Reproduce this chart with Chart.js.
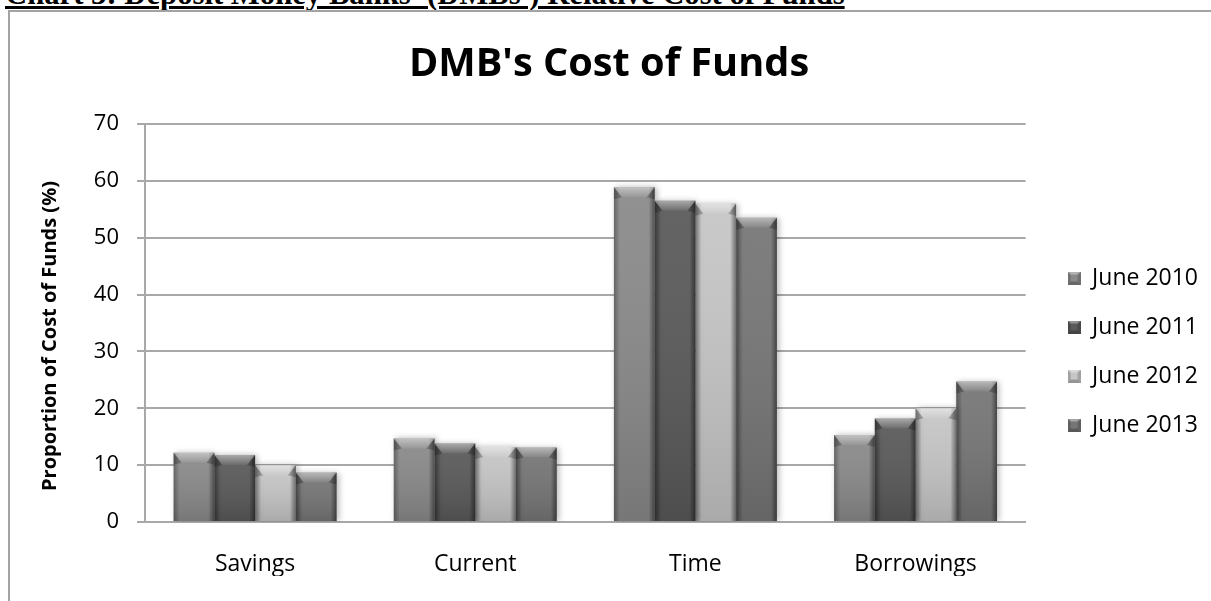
<!DOCTYPE html>
<html>
<head>
<meta charset="utf-8">
<script src="https://cdn.jsdelivr.net/npm/chart.js@4.4.0/dist/chart.umd.min.js"></script>
<style>
  html, body { margin: 0; padding: 0; background: #ffffff; }
  body { width: 1211px; height: 601px; position: relative; overflow: hidden; }
  #heading {
    position: absolute; left: 5px; top: -21px; white-space: nowrap;
    font: bold 30.7px "Liberation Serif", "Times New Roman", serif; line-height: 31px;
    color: #000; text-decoration: underline; text-decoration-thickness: 3px;
    text-underline-offset: 2px;
  }
  .frame { position: absolute; background: #a3a3a3; }
  #frameTop { left: 8px; top: 10px; width: 1203px; height: 2px; }
  #frameLeft { left: 8px; top: 10px; width: 2px; height: 591px; }
  #chart { position: absolute; left: 0; top: 0; }
</style>
</head>
<body>
<div id="heading">Chart 3: Deposit Money Banks' (DMBs') Relative Cost of Funds</div>
<div class="frame" id="frameTop"></div>
<div class="frame" id="frameLeft"></div>
<canvas id="chart" width="1211" height="601"></canvas>
<script>
// Funding categories and each year's share of the banks' cost of funds (%)
const categories = ['Savings', 'Current', 'Time', 'Borrowings'];
const seriesNames = ['June 2010', 'June 2011', 'June 2012', 'June 2013'];
const june2010 = [12.2, 14.7, 58.9, 15.3];
const june2011 = [11.8, 13.8, 56.5, 18.2];
const june2012 = [10.0, 13.2, 56.0, 20.0];
const june2013 = [8.7, 13.1, 53.5, 24.7];
const yTicks = [0, 10, 20, 30, 40, 50, 60, 70];

const seriesValues = [june2010, june2011, june2012, june2013];
const seriesColors = ['#8a8a8a', '#5a5a5a', '#c6c6c6', '#767676'];
const gridColor = '#a8a8a8';
const textFont = '"Open Sans", "Liberation Sans", sans-serif';

// Small bevelled square used as each legend marker
function makeMarker(color) {
  const c = document.createElement('canvas');
  c.width = 13; c.height = 13;
  const g = c.getContext('2d');
  g.fillStyle = color;
  g.fillRect(0, 0, 13, 13);
  g.fillStyle = 'rgba(255,255,255,0.35)';
  g.beginPath(); g.moveTo(0, 0); g.lineTo(13, 0); g.lineTo(10, 3); g.lineTo(3, 3); g.closePath(); g.fill();
  g.fillStyle = 'rgba(0,0,0,0.25)';
  g.beginPath(); g.moveTo(0, 13); g.lineTo(13, 13); g.lineTo(10, 10); g.lineTo(3, 10); g.closePath(); g.fill();
  g.fillStyle = 'rgba(0,0,0,0.18)';
  g.beginPath(); g.moveTo(0, 0); g.lineTo(3, 3); g.lineTo(3, 10); g.lineTo(0, 13); g.closePath(); g.fill();
  g.beginPath(); g.moveTo(13, 0); g.lineTo(10, 3); g.lineTo(10, 10); g.lineTo(13, 13); g.closePath(); g.fill();
  return c;
}
const markers = seriesColors.map(makeMarker);

// Soft drop shadow behind the bars
const barShadow = {
  id: 'barShadow',
  beforeDatasetsDraw(chart) {
    const ctx = chart.ctx;
    ctx.save();
    ctx.shadowColor = 'rgba(0,0,0,0.28)';
    ctx.shadowBlur = 6;
    ctx.shadowOffsetX = 2;
    ctx.shadowOffsetY = 0;
  },
  afterDatasetsDraw(chart) {
    chart.ctx.restore();
  }
};

// Bevel shading on top of each bar (top chamfer, dark side edges, darker base)
const barBevel = {
  id: 'barBevel',
  afterDatasetsDraw(chart) {
    const ctx = chart.ctx;
    chart.data.datasets.forEach((ds, di) => {
      const meta = chart.getDatasetMeta(di);
      meta.data.forEach((bar) => {
        const p = bar.getProps(['x', 'y', 'width', 'base'], true);
        const x0 = p.x - p.width / 2, x1 = p.x + p.width / 2;
        const top = p.y, bottom = p.base, h = bottom - top;
        ctx.save();
        // vertical darkening toward the base
        let g = ctx.createLinearGradient(0, top, 0, bottom);
        g.addColorStop(0, 'rgba(255,255,255,0.06)');
        g.addColorStop(1, 'rgba(0,0,0,0.14)');
        ctx.fillStyle = g;
        ctx.fillRect(x0, top, p.width, h);
        // side edges
        g = ctx.createLinearGradient(x0, 0, x0 + 6, 0);
        g.addColorStop(0, 'rgba(0,0,0,0.30)');
        g.addColorStop(1, 'rgba(0,0,0,0)');
        ctx.fillStyle = g;
        ctx.fillRect(x0, top, 6, h);
        g = ctx.createLinearGradient(x1 - 6, 0, x1, 0);
        g.addColorStop(0, 'rgba(0,0,0,0)');
        g.addColorStop(1, 'rgba(0,0,0,0.45)');
        ctx.fillStyle = g;
        ctx.fillRect(x1 - 6, top, 6, h);
        // top chamfer
        const bv = Math.min(10, h / 2), inset = 8;
        ctx.fillStyle = 'rgba(0,0,0,0.22)';
        ctx.beginPath();
        ctx.moveTo(x0, top); ctx.lineTo(x0 + inset, top + bv); ctx.lineTo(x0, top + bv + 2); ctx.closePath(); ctx.fill();
        ctx.beginPath();
        ctx.moveTo(x1, top); ctx.lineTo(x1 - inset, top + bv); ctx.lineTo(x1, top + bv + 2); ctx.closePath(); ctx.fill();
        g = ctx.createLinearGradient(0, top, 0, top + bv);
        g.addColorStop(0, 'rgba(255,255,255,0.45)');
        g.addColorStop(1, 'rgba(255,255,255,0.05)');
        ctx.fillStyle = g;
        ctx.beginPath();
        ctx.moveTo(x0, top); ctx.lineTo(x1, top); ctx.lineTo(x1 - inset, top + bv); ctx.lineTo(x0 + inset, top + bv); ctx.closePath(); ctx.fill();
        ctx.restore();
      });
    });
  }
};

const datasets = seriesNames.map((name, i) => ({
  label: name,
  data: seriesValues[i],
  backgroundColor: seriesColors[i],
  borderWidth: 0,
  categoryPercentage: 0.74,
  barPercentage: 1.0
}));

new Chart(document.getElementById('chart'), {
  type: 'bar',
  data: { labels: categories, datasets: datasets },
  plugins: [barShadow, barBevel],
  options: {
    responsive: false,
    animation: false,
    devicePixelRatio: 1,
    layout: { padding: { left: 10, top: 13, right: 3, bottom: 25 } },
    plugins: {
      title: {
        display: true,
        text: "DMB's Cost of Funds",
        color: '#000',
        font: { family: textFont, size: 39.7, weight: 'bold' },
        padding: { top: 28, bottom: 35.4 }
      },
      legend: {
        position: 'right',
        fullSize: false,
        title: { display: true, text: '', font: { size: 10 }, padding: { top: 45, bottom: 0 } },
        labels: {
          color: '#000',
          font: { family: textFont, size: 23 },
          boxWidth: 13,
          boxHeight: 13,
          padding: 26,
          usePointStyle: true,
          generateLabels(chart) {
            const items = Chart.defaults.plugins.legend.labels.generateLabels(chart);
            items.forEach((it) => { it.pointStyle = markers[it.datasetIndex]; });
            return items;
          }
        }
      },
      tooltip: { enabled: false }
    },
    scales: {
      x: {
        grid: { display: false, drawTicks: false },
        border: { display: true, color: gridColor, width: 2 },
        ticks: { color: '#000', font: { family: textFont, size: 23 }, padding: 29, maxRotation: 0, minRotation: 0 },
        afterFit(scale) { scale.height = 54; }
      },
      y: {
        min: 0,
        max: 70,
        z: 1,
        afterBuildTicks(scale) { scale.ticks = yTicks.map(v => ({ value: v })); },
        afterFit(scale) { scale.width = 135; },
        grid: { color: gridColor, lineWidth: 2, tickLength: 8 },
        border: { display: true, color: gridColor, width: 2 },
        ticks: { color: '#000', font: { family: textFont, size: 22 }, padding: 18 },
        title: {
          display: true,
          text: 'Proportion of Cost of Funds (%)     ',
          color: '#000',
          font: { family: textFont, size: 20, weight: 'bold' },
          padding: { top: 28, bottom: 0 }
        }
      },
      gap: {
        type: 'linear',
        position: 'right',
        display: true,
        grid: { display: false, drawTicks: false },
        border: { display: false },
        ticks: { display: false },
        afterFit(scale) { scale.width = 16; }
      }
    }
  }
});
</script>
</body>
</html>
